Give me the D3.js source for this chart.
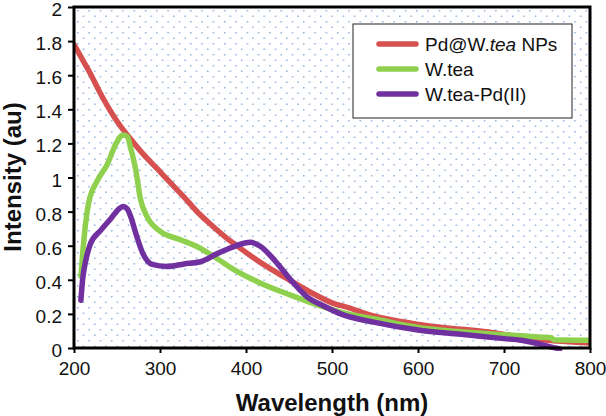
<!DOCTYPE html>
<html>
<head>
<meta charset="utf-8">
<script src="https://cdn.jsdelivr.net/npm/d3@7"></script>
<style>
  html, body { margin: 0; padding: 0; background: #fff; }
  svg { display: block; font-family: Arial, "Liberation Sans", Helvetica, sans-serif; }
</style>
</head>
<body>
<svg id="chart" width="606" height="416"></svg>
<script>
// ---- data ----
const seriesNames = ["Pd@W.tea NPs", "W.tea", "W.tea-Pd(II)"];
const seriesColors = ["#d75050", "#8fd14f", "#7030a0"];

const redWave = [200,210,220,230,240,250,265,280,297,310,328,345,360,375,392,410,430,450,474,500,520,540,580,620,650,680,700,750,780,800];
const redVal  = [1.78,1.69,1.60,1.50,1.41,1.33,1.23,1.14,1.05,0.98,0.885,0.79,0.72,0.655,0.59,0.525,0.46,0.40,0.33,0.265,0.235,0.20,0.155,0.125,0.11,0.095,0.08,0.045,0.035,0.03];

const greenWave = [208,210,212,217,227,239,248,257,262,266,272,277,285,300,324,343,363,386,417,452,479,510,550,600,650,700,740,755,758,800];
const greenVal  = [0.42,0.55,0.66,0.85,0.98,1.08,1.19,1.25,1.24,1.17,1.04,0.88,0.77,0.685,0.635,0.595,0.535,0.46,0.38,0.31,0.26,0.21,0.17,0.12,0.095,0.078,0.065,0.06,0.048,0.045];

const purpleWave = [208,210,214,219,231,243,252,257,262,266,272,280,291,308,328,347,367,386,405,417,433,452,471,491,510,550,600,650,700,720,740,755,765];
const purpleVal  = [0.28,0.40,0.52,0.61,0.69,0.76,0.815,0.83,0.815,0.77,0.67,0.555,0.49,0.478,0.493,0.506,0.555,0.595,0.62,0.595,0.516,0.40,0.30,0.245,0.20,0.15,0.105,0.08,0.055,0.045,0.025,0.005,-0.005];

const xTicks = [200,300,400,500,600,700,800];
const yTicks = [0,0.2,0.4,0.6,0.8,1,1.2,1.4,1.6,1.8,2];

// ---- layout ----
const svg = d3.select("#chart");
const L = 74, R = 590, T = 7, B = 348;
const x = d3.scaleLinear().domain([200, 800]).range([L, R]);
const y = d3.scaleLinear().domain([0, 2]).range([B, T]);

// dotted background pattern
const defs = svg.append("defs");
const pat = defs.append("pattern")
  .attr("id", "dots").attr("patternUnits", "userSpaceOnUse")
  .attr("x", L + 3).attr("y", T + 3)
  .attr("width", 11.3).attr("height", 11);
pat.append("rect").attr("width", 11.3).attr("height", 11).attr("fill", "#fff");
pat.append("rect").attr("x", 0).attr("y", 0).attr("width", 1.5).attr("height", 1.5).attr("fill", "#8fb2dc");
pat.append("rect").attr("x", 5.65).attr("y", 5.5).attr("width", 1.5).attr("height", 1.5).attr("fill", "#8fb2dc");

defs.append("clipPath").attr("id", "clip")
  .append("rect").attr("x", L).attr("y", T).attr("width", R - L).attr("height", B - T + 3);

svg.append("rect").attr("x", L).attr("y", T).attr("width", R - L).attr("height", B - T)
  .attr("fill", "url(#dots)");

// lines
const line = d3.line().x(d => x(d[0])).y(d => y(d[1])).curve(d3.curveMonotoneX);
const allSeries = [
  d3.zip(redWave, redVal),
  d3.zip(greenWave, greenVal),
  d3.zip(purpleWave, purpleVal)
];
const gLines = svg.append("g").attr("clip-path", "url(#clip)");
allSeries.forEach((s, i) => {
  gLines.append("path").datum(s)
    .attr("d", line)
    .attr("fill", "none")
    .attr("stroke", seriesColors[i])
    .attr("stroke-width", 5.5)
    .attr("stroke-linejoin", "round")
    .attr("stroke-linecap", "round");
});

// frame
svg.append("rect").attr("x", L).attr("y", T).attr("width", R - L).attr("height", B - T)
  .attr("fill", "none").attr("stroke", "#000").attr("stroke-width", 3);

// axes
const yAxis = d3.axisLeft(y).tickValues(yTicks).tickSize(6).tickPadding(6)
  .tickFormat(d => d3.format("")(+d.toFixed(1)));
const gy = svg.append("g").attr("transform", `translate(${L},0)`).call(yAxis);
gy.select(".domain").remove();
gy.selectAll(".tick line").attr("stroke", "#000").attr("stroke-width", 2);
gy.selectAll("text").attr("font-size", 19).attr("fill", "#111").attr("dy", "0.45em")
  .attr("font-family", "Arial, 'Liberation Sans', sans-serif");

const xAxis = d3.axisBottom(x).tickValues(xTicks).tickSize(5).tickPadding(9).tickFormat(d3.format("d"));
const gx = svg.append("g").attr("transform", `translate(0,${B})`).call(xAxis);
gx.select(".domain").remove();
gx.selectAll(".tick line").attr("stroke", "#000").attr("stroke-width", 2);
gx.selectAll("text").attr("font-size", 19).attr("fill", "#111")
  .attr("font-family", "Arial, 'Liberation Sans', sans-serif");

// axis titles
svg.append("text").attr("x", 332).attr("y", 411).attr("text-anchor", "middle")
  .attr("font-size", 24).attr("font-weight", "bold").attr("fill", "#111")
  .text("Wavelength (nm)");
svg.append("text").attr("transform", "translate(21,177) rotate(-90)").attr("text-anchor", "middle")
  .attr("font-size", 24).attr("font-weight", "bold").attr("fill", "#111")
  .text("Intensity (au)");

// legend
const lg = svg.append("g");
lg.append("rect").attr("x", 353).attr("y", 24).attr("width", 219).attr("height", 94)
  .attr("fill", "#fff").attr("stroke", "#222").attr("stroke-width", 1);
const rowsY = [44, 69, 94];
seriesNames.forEach((name, i) => {
  lg.append("line").attr("x1", 379).attr("x2", 416).attr("y1", rowsY[i]).attr("y2", rowsY[i])
    .attr("stroke", seriesColors[i]).attr("stroke-width", 5.5).attr("stroke-linecap", "round");
  const t = lg.append("text").attr("x", 425).attr("y", rowsY[i]).attr("dy", "0.36em")
    .attr("font-size", 19).attr("fill", "#111");
  if (i === 0) {
    t.append("tspan").text("Pd@W.");
    t.append("tspan").attr("font-style", "italic").text("tea");
    t.append("tspan").text(" NPs");
  } else {
    t.text(name);
  }
});
</script>
</body>
</html>
